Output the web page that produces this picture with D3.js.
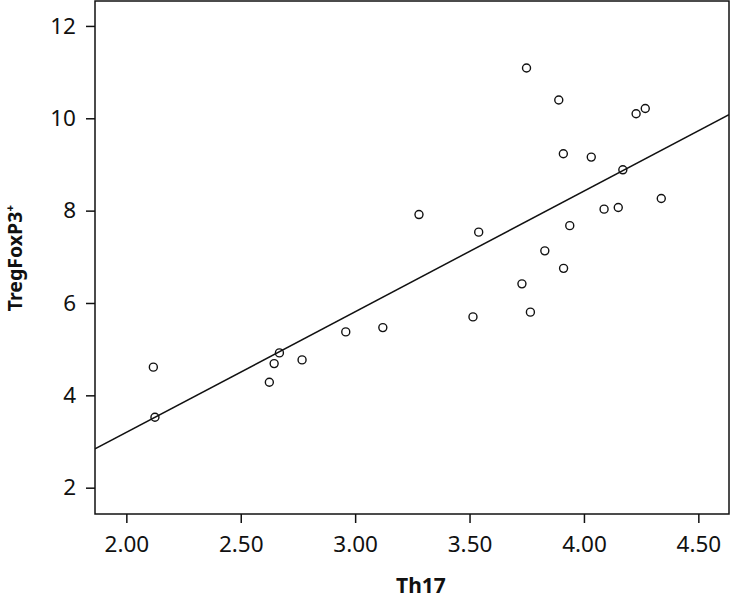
<!DOCTYPE html>
<html lang="en">

<head>
    <script src="https://d3js.org/d3.v7.min.js"></script>
    <meta charset="utf-8" />
    <style>
        body { margin: 0; background: #fff; }
        text { font-family: "Noto Sans", "Open Sans", sans-serif; fill: #111; }
    </style>
</head>

<body>
    <script>

        const w = 730;
        const h = 598;

        // Th17 and TregFoxP3+ values
        const th17 = [2.118, 2.125, 2.625, 2.646, 2.669, 2.768, 2.959, 3.121, 3.279, 3.515,
            3.540, 3.729, 3.766, 3.749, 3.829, 3.890, 3.910, 3.911, 3.938, 4.032,
            4.088, 4.150, 4.170, 4.228, 4.268, 4.338];
        const treg = [4.61, 3.525, 4.284, 4.687, 4.919, 4.767, 5.374, 5.467, 7.915, 5.699,
            7.534, 6.414, 5.801, 11.088, 7.129, 10.397, 9.231, 6.750, 7.675, 9.159,
            8.032, 8.067, 8.884, 10.098, 10.212, 8.262];

        const xTicks = [2.0, 2.5, 3.0, 3.5, 4.0, 4.5];
        const yTicks = [2, 4, 6, 8, 10, 12];

        const data = th17.map((x, i) => ({ x: x, y: treg[i] }));

        const plotL = 95, plotR = 729, plotT = 1, plotB = 514;

        const xScale = d3.scaleLinear()
            .domain([1.863, 4.634])
            .range([plotL, plotR]);

        const yScale = d3.scaleLinear()
            .domain([1.43, 12.54])
            .range([plotB, plotT]);

        // least squares fit
        const mx = d3.mean(th17), my = d3.mean(treg);
        const slope = d3.sum(data, d => (d.x - mx) * (d.y - my)) / d3.sum(data, d => (d.x - mx) ** 2);
        const intercept = my - slope * mx;

        const svg = d3.select("body")
            .append("svg")
            .attr("width", w)
            .attr("height", h);

        const xAxis = d3.axisBottom(xScale)
            .tickValues(xTicks)
            .tickFormat(d3.format(".2f"))
            .tickSize(9)
            .tickPadding(13);

        const yAxis = d3.axisLeft(yScale)
            .tickValues(yTicks)
            .tickSize(9)
            .tickPadding(10);

        svg.append("g")
            .attr("transform", "translate(0," + plotB + ")")
            .call(xAxis)
            .call(g => g.select(".domain").remove())
            .call(g => g.selectAll("line").attr("stroke", "#111").attr("stroke-width", 1.5))
            .call(g => g.selectAll("text").style("font-size", "22.5px"));

        svg.append("g")
            .attr("transform", "translate(" + plotL + ",0)")
            .call(yAxis)
            .call(g => g.select(".domain").remove())
            .call(g => g.selectAll("line").attr("stroke", "#111").attr("stroke-width", 1.5))
            .call(g => g.selectAll("text").style("font-size", "22.5px"));

        svg.append("clipPath")
            .attr("id", "plot")
            .append("rect")
            .attr("x", plotL)
            .attr("y", plotT)
            .attr("width", plotR - plotL)
            .attr("height", plotB - plotT);

        const x0 = xScale.domain()[0], x1 = xScale.domain()[1];
        svg.append("line")
            .attr("clip-path", "url(#plot)")
            .attr("x1", xScale(x0))
            .attr("y1", yScale(intercept + slope * x0))
            .attr("x2", xScale(x1))
            .attr("y2", yScale(intercept + slope * x1))
            .attr("stroke", "#111")
            .attr("stroke-width", 1.5);

        svg.selectAll("circle")
            .data(data)
            .enter()
            .append("circle")
            .attr("cx", d => xScale(d.x))
            .attr("cy", d => yScale(d.y))
            .attr("r", 4)
            .attr("fill", "none")
            .attr("stroke", "#111")
            .attr("stroke-width", 1.4);

        svg.append("rect")
            .attr("x", plotL)
            .attr("y", plotT)
            .attr("width", plotR - plotL)
            .attr("height", plotB - plotT)
            .attr("fill", "none")
            .attr("stroke", "#111")
            .attr("stroke-width", 1.5);

        svg.append("text")
            .attr("x", 421)
            .attr("y", 593)
            .attr("text-anchor", "middle")
            .style("font-size", "21px")
            .style("font-weight", "bold")
            .text("Th17");

        svg.append("text")
            .attr("transform", "translate(22,258) rotate(-90)")
            .attr("text-anchor", "middle")
            .style("font-size", "19.5px")
            .style("font-weight", "bold")
            .text("TregFoxP3⁺");

    </script>
</body>

</html>
